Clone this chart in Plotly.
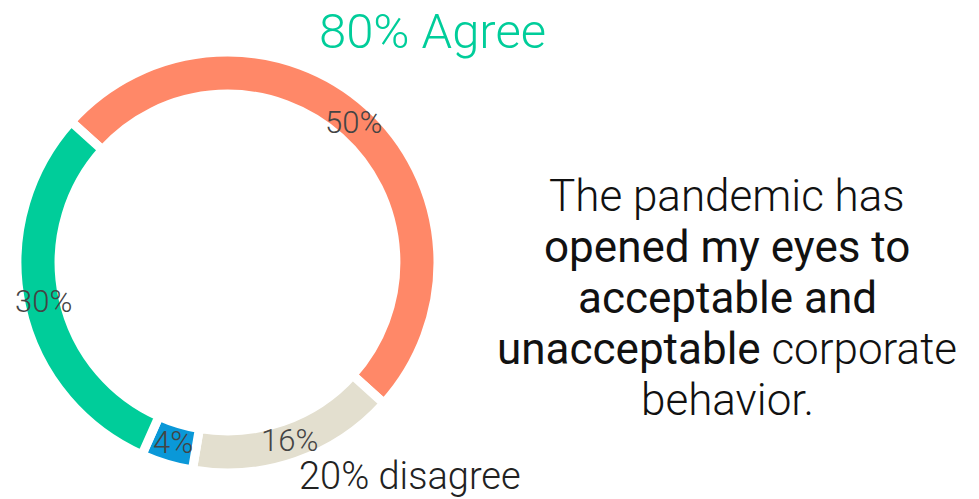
import math
import plotly.graph_objects as go

labels = ["Strongly agree", "Disagree", "Strongly disagree", "Agree"]
values = [50, 16, 4, 30]
colors = ["#FF8868", "#E3DFCF", "#0A98D8", "#00CD9A"]

title_text = "80% Agree"
disagree_text = "20% disagree"
statement_lines = [
    "The pandemic has",
    "<span style='font-weight:400'>opened my eyes to</span>",
    "<span style='font-weight:400'>acceptable and</span>",
    "<span style='font-weight:400'>unacceptable</span> corporate",
    "behavior.",
]

FONT = "Roboto"
ROTATION = -48
ML, MR, MT, MB = 17, 20, 52, 26
FW, FH = 979, 499
W = FW - ML - MR
H = FH - MT - MB
DIAM = H  # pie fills plot height

fig = go.Figure(
    go.Pie(
        labels=labels,
        values=values,
        sort=False,
        direction="clockwise",
        rotation=ROTATION,
        hole=0.80,
        marker=dict(colors=colors, line=dict(color="white", width=9)),
        textinfo="none",
        showlegend=False,
        hoverinfo="label+percent",
        domain=dict(x=[0, DIAM / W], y=[0, 1]),
    )
)

fig.update_layout(
    width=FW,
    height=FH,
    margin=dict(l=ML, r=MR, t=MT, b=MB),
    paper_bgcolor="white",
    plot_bgcolor="white",
)


def px(x):
    return (x - ML) / W


def py(y):
    return (FH - MB - y) / H


ann = []
# slice value labels at the middle of each slice, on the ring
cx, cy = ML + DIAM / 2, MT + DIAM / 2
r_lab = 188
total = sum(values)
cum = 0
for v in values:
    ang = math.radians(ROTATION + 360 * (cum + v / 2) / total)
    cum += v
    lx = cx + r_lab * math.sin(ang)
    ly = cy - r_lab * math.cos(ang)
    ann.append(dict(text=f"{v}%", xref="paper", yref="paper",
                    x=px(lx), y=py(ly), showarrow=False,
                    xanchor="center", yanchor="middle",
                    font=dict(family=FONT, size=31, color="#444", weight=300)))

ann.append(dict(text=title_text, xref="paper", yref="paper",
                x=px(432), y=py(31),
                showarrow=False, xanchor="center", yanchor="middle",
                font=dict(family=FONT, size=49, color="#00CD9A", weight=300)))
ann.append(dict(text=disagree_text, xref="paper", yref="paper",
                x=px(410), y=py(476),
                showarrow=False, xanchor="center", yanchor="middle",
                font=dict(family=FONT, size=38, color="#222", weight=300)))
line_y = [196, 247, 298, 349, 400]
for txt, yy in zip(statement_lines, line_y):
    ann.append(dict(text=txt, xref="paper", yref="paper",
                    x=px(727), y=py(yy),
                    showarrow=False, xanchor="center", yanchor="middle",
                    font=dict(family=FONT, size=44, color="#111", weight=300)))
fig.update_layout(annotations=ann)

fig.write_html("out.html")
